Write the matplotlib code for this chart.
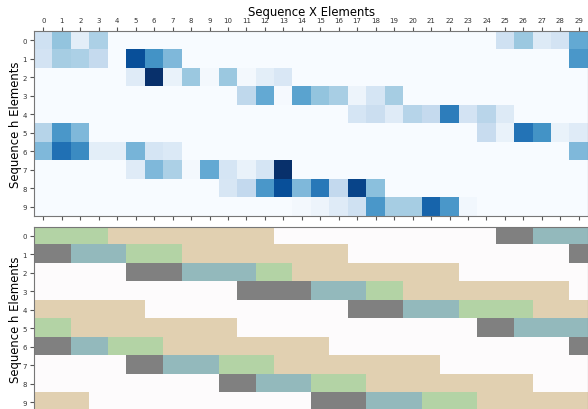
"""Sequence alignment view: similarity heatmap over segment map"""
import numpy as np
import matplotlib
matplotlib.use('Agg')
import matplotlib.pyplot as plt
from matplotlib.colors import ListedColormap

# similarity between sequence h (rows) and sequence X (columns)
sim_rows = [
    [0.20, 0.40, 0.10, 0.33, 0, 0, 0, 0, 0, 0, 0, 0, 0, 0, 0, 0, 0, 0, 0, 0, 0, 0, 0, 0, 0, 0.20, 0.38, 0.13, 0.18, 0.52],
    [0.18, 0.35, 0.33, 0.25, 0, 0.88, 0.62, 0.45, 0, 0, 0, 0, 0, 0, 0, 0, 0, 0, 0, 0, 0, 0, 0, 0, 0, 0, 0, 0, 0, 0.60],
    [0, 0, 0, 0, 0, 0.12, 1.00, 0.07, 0.38, 0.02, 0.38, 0.02, 0.10, 0.15, 0, 0, 0, 0, 0, 0, 0, 0, 0, 0, 0, 0, 0, 0, 0, 0],
    [0, 0, 0, 0, 0, 0, 0, 0, 0, 0, 0, 0.27, 0.52, 0.01, 0.55, 0.40, 0.34, 0.05, 0.17, 0.35, 0, 0, 0, 0, 0, 0, 0, 0, 0, 0],
    [0, 0, 0, 0, 0, 0, 0, 0, 0, 0, 0, 0, 0, 0, 0, 0, 0, 0.17, 0.22, 0.12, 0.30, 0.25, 0.70, 0.18, 0.29, 0.13, 0, 0, 0, 0],
    [0.30, 0.60, 0.45, 0, 0, 0, 0, 0, 0, 0, 0, 0, 0, 0, 0, 0, 0, 0, 0, 0, 0, 0, 0, 0, 0.24, 0.07, 0.74, 0.62, 0.07, 0.12],
    [0.45, 0.75, 0.65, 0.10, 0.10, 0.47, 0.17, 0.14, 0, 0, 0, 0, 0, 0, 0, 0, 0, 0, 0, 0, 0, 0, 0, 0, 0, 0, 0, 0, 0, 0.45],
    [0, 0, 0, 0, 0, 0.12, 0.45, 0.33, 0.02, 0.52, 0.17, 0.07, 0.17, 1.00, 0, 0, 0, 0, 0, 0, 0, 0, 0, 0, 0, 0, 0, 0, 0, 0],
    [0, 0, 0, 0, 0, 0, 0, 0, 0, 0, 0.16, 0.26, 0.60, 0.88, 0.45, 0.72, 0.26, 0.92, 0.42, 0, 0, 0, 0, 0, 0, 0, 0, 0, 0, 0],
    [0, 0, 0, 0, 0, 0, 0, 0, 0, 0, 0, 0, 0, 0, 0.02, 0.05, 0.12, 0.20, 0.60, 0.35, 0.35, 0.80, 0.60, 0.03, 0, 0, 0, 0, 0, 0],
]

# segment map: 0 none, 1 gray, 2 teal, 3 green, 4 tan
seg_rows = [
    [3, 3, 3, 3, 4, 4, 4, 4, 4, 4, 4, 4, 4, 0, 0, 0, 0, 0, 0, 0, 0, 0, 0, 0, 0, 1, 1, 2, 2, 2],
    [1, 1, 2, 2, 2, 3, 3, 3, 4, 4, 4, 4, 4, 4, 4, 4, 4, 0, 0, 0, 0, 0, 0, 0, 0, 0, 0, 0, 0, 1],
    [0, 0, 0, 0, 0, 1, 1, 1, 2, 2, 2, 2, 3, 3, 4, 4, 4, 4, 4, 4, 4, 4, 4, 0, 0, 0, 0, 0, 0, 0],
    [0, 0, 0, 0, 0, 0, 0, 0, 0, 0, 0, 1, 1, 1, 1, 2, 2, 2, 3, 3, 4, 4, 4, 4, 4, 4, 4, 4, 4, 0],
    [4, 4, 4, 4, 4, 4, 0, 0, 0, 0, 0, 0, 0, 0, 0, 0, 0, 1, 1, 1, 2, 2, 2, 3, 3, 3, 3, 4, 4, 4],
    [3, 3, 4, 4, 4, 4, 4, 4, 4, 4, 4, 0, 0, 0, 0, 0, 0, 0, 0, 0, 0, 0, 0, 0, 1, 1, 2, 2, 2, 2],
    [1, 1, 2, 2, 3, 3, 3, 4, 4, 4, 4, 4, 4, 4, 4, 4, 0, 0, 0, 0, 0, 0, 0, 0, 0, 0, 0, 0, 0, 1],
    [0, 0, 0, 0, 0, 1, 1, 2, 2, 2, 3, 3, 3, 4, 4, 4, 4, 4, 4, 4, 4, 4, 0, 0, 0, 0, 0, 0, 0, 0],
    [0, 0, 0, 0, 0, 0, 0, 0, 0, 0, 1, 1, 2, 2, 2, 3, 3, 3, 4, 4, 4, 4, 4, 4, 4, 4, 4, 0, 0, 0],
    [4, 4, 4, 0, 0, 0, 0, 0, 0, 0, 0, 0, 0, 0, 0, 1, 1, 1, 2, 2, 2, 3, 3, 3, 4, 4, 4, 4, 4, 4],
]
seg_colors = ['#fdfbfc', '#808080', '#93b9bc', '#b3d3a5', '#e1d0b1']

x_labels = [str(i) for i in range(30)]
h_labels = [str(i) for i in range(10)]

sim = np.array(sim_rows)
seg = np.array(seg_rows)

fig = plt.figure(figsize=(5.88, 4.10), dpi=100)
ax_top = fig.add_axes([0.058, 0.471, 0.942, 0.451])
ax_bot = fig.add_axes([0.058, -0.006, 0.942, 0.451])

ax_top.imshow(sim, cmap='Blues', vmin=0, vmax=1, aspect='auto', interpolation='nearest')
ax_bot.imshow(seg, cmap=ListedColormap(seg_colors), vmin=-0.5, vmax=4.5,
              aspect='auto', interpolation='nearest')

for ax in (ax_top, ax_bot):
    ax.set_xticks(range(len(x_labels)))
    ax.set_yticks(range(len(h_labels)))
    ax.set_yticklabels(h_labels)
    ax.tick_params(labelsize=5, length=3, width=0.8, color='#555555',
                   labelcolor='#333333', pad=2)
    for sp in ax.spines.values():
        sp.set_color('#777777')
    ax.set_ylabel('Sequence h Elements', fontsize=8.4, labelpad=0.5)

ax_top.xaxis.set_ticks_position('both')
ax_top.xaxis.set_label_position('top')
ax_top.tick_params(axis='x', labeltop=True, labelbottom=False, pad=2.5)
ax_top.set_xticklabels(x_labels)
ax_top.set_xlabel('Sequence X Elements', fontsize=8.4, labelpad=2)

ax_bot.set_xticklabels([])

fig.savefig('out.png', dpi=100)
